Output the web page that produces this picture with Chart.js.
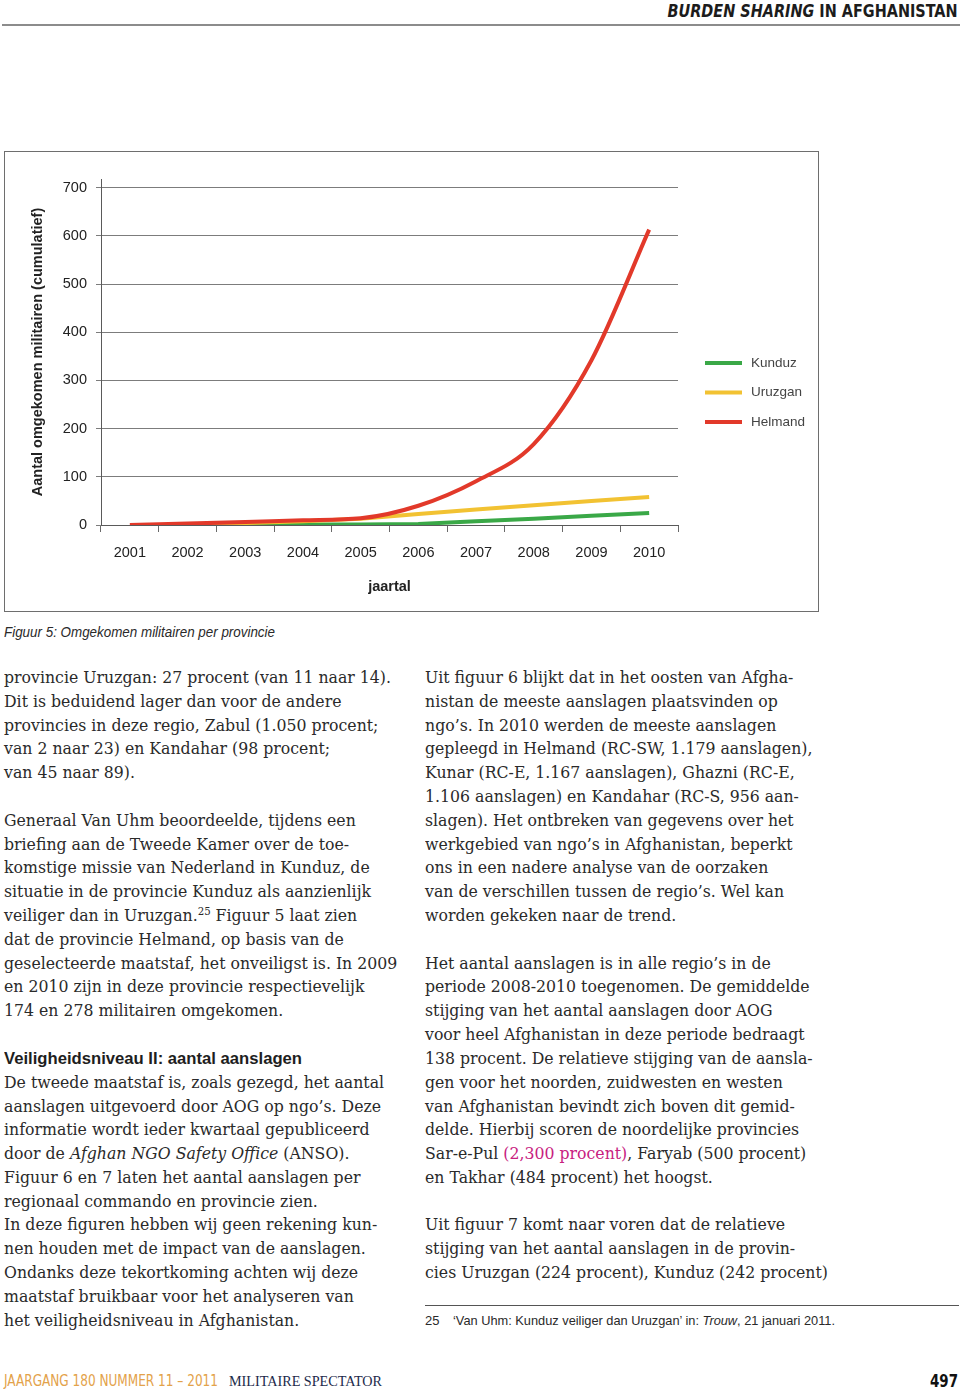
<!DOCTYPE html>
<html><head><meta charset="utf-8">
<script src="https://cdn.jsdelivr.net/npm/chart.js@4.4.0/dist/chart.umd.min.js"></script>
<style>
html,body{margin:0;padding:0;background:#fff;}
body{width:960px;height:1390px;position:relative;overflow:hidden;color:#262626;}
.abs{position:absolute;white-space:nowrap;}
.body{font-family:'DejaVu Serif',serif;font-size:17px;line-height:24px;height:24px;color:#2a2a2a;}
.body sup{font-size:11px;line-height:0;vertical-align:6px;}
.hdr{font-family:'Liberation Sans Narrow','DejaVu Sans Condensed','Liberation Sans',sans-serif;font-weight:bold;font-size:18px;line-height:22px;color:#1c1c1c;}
.sans{font-family:'Liberation Sans',sans-serif;}
</style>
</head>
<body>
<div class="abs hdr" id="hdr" style="right:2px;top:0px;"><i>BURDEN SHARING</i> IN AFGHANISTAN</div>
<div class="abs" style="left:2px;top:24px;width:958px;height:2px;background:#8c8c8c;"></div>

<div class="abs" style="left:4px;top:151px;width:815px;height:461px;border:1px solid #6e6e6e;box-sizing:border-box;"></div>
<div class="abs" style="left:5px;top:152px;width:812px;height:458px;">
  <canvas id="c" width="812" height="458"></canvas>
</div>

<div class="abs sans" id="cap" style="left:4px;top:623px;font-size:14px;line-height:18px;font-style:italic;color:#2a2a2a;">Figuur 5: Omgekomen militairen per provincie</div>

<div id="textLayer"></div>

<div class="abs" style="left:425px;top:1305px;width:534px;height:1px;background:#555;"></div>
<div class="abs sans" style="left:425px;top:1313px;font-size:13px;line-height:16px;color:#2a2a2a;">25</div>
<div class="abs sans" id="fn" style="left:453px;top:1313px;font-size:13px;line-height:16px;color:#2a2a2a;">‘Van Uhm: Kunduz veiliger dan Uruzgan’ in: <i>Trouw</i>, 21 januari 2011.</div>

<div class="abs hdr" id="ft1" style="left:4px;top:1371px;font-weight:normal;font-size:15px;line-height:20px;color:#e3a24a;">JAARGANG 180 NUMMER 11 – 2011</div>
<div class="abs" id="ft2" style="left:229px;top:1371px;font-family:'Liberation Serif',serif;font-size:15px;line-height:20px;color:#1d2a4a;">MILITAIRE SPECTATOR</div>
<div class="abs hdr" id="ft3" style="left:930px;top:1370px;font-size:18px;line-height:22px;color:#111;">497</div>

<script>
// ---------- chart data ----------
const years = ['2001','2002','2003','2004','2005','2006','2007','2008','2009','2010'];
const seriesNames = ['Kunduz','Uruzgan','Helmand'];
const kunduz  = [null, 0, 0, 1, 1, 2, 8, 13, 19, 25];
const uruzgan = [null, 1, 4, 8, 13, 23, 32, 41, 50, 58];
const helmand = [0, 3, 6, 10, 14, 40, 91, 168, 342, 613];
const seriesColors = ['#3aa847', '#f2c232', '#e2392a'];
const seriesSmooth = [false, false, true];
const yTickStep = 100;
const yTickTop = 700;
const yAxisTitle = 'Aantal omgekomen militairen (cumulatief)';
const xAxisTitle = 'jaartal';

const sideLegend = {
  id: 'sideLegend',
  afterDraw(chart) {
    const {ctx, chartArea} = chart;
    const x0 = chartArea.right + 27;
    ctx.save();
    chart.data.datasets.forEach((ds, i) => {
      const y = chartArea.top + 184 + i * 29.5;
      ctx.strokeStyle = ds.borderColor;
      ctx.lineWidth = 4;
      ctx.beginPath(); ctx.moveTo(x0, y); ctx.lineTo(x0 + 37, y); ctx.stroke();
      ctx.fillStyle = '#444';
      ctx.font = '13.5px "Liberation Sans", Arial, sans-serif';
      ctx.textBaseline = 'middle';
      ctx.textAlign = 'left';
      ctx.fillText(ds.label, x0 + 46, y);
    });
    ctx.restore();
  }
};

const seriesData = [kunduz, uruzgan, helmand];
const tickFont = {family: 'Liberation Sans', size: 14.5};
new Chart(document.getElementById('c'), {
  type: 'line',
  data: {
    labels: years,
    datasets: seriesNames.map((n, i) => ({
      label: n,
      data: seriesData[i],
      borderColor: seriesColors[i],
      backgroundColor: seriesColors[i],
      borderWidth: 4,
      pointRadius: 0,
      fill: false,
      tension: 0,
      cubicInterpolationMode: seriesSmooth[i] ? 'monotone' : 'default',
      order: 3 - i
    }))
  },
  options: {
    responsive: false,
    animation: false,
    devicePixelRatio: 1,
    layout: {padding: {left: 0, right: 139, top: 27, bottom: 0}},
    plugins: {legend: {display: false}, tooltip: {enabled: false}},
    scales: {
      x: {
        type: 'category',
        offset: true,
        grid: {offset: true, drawOnChartArea: false, drawTicks: true, tickLength: 7, color: '#6a6a6a'},
        border: {display: true, color: '#5a5a5a'},
        ticks: {color: '#222', font: tickFont, padding: 12, maxRotation: 0, autoSkip: false},
        title: {display: true, text: xAxisTitle, color: '#222', font: {family: 'Liberation Sans', size: 14.5, weight: 'bold'}, padding: {top: 0, bottom: 14}},
        afterFit: s => { s.height = 85; }
      },
      y: {
        min: 0,
        max: yTickTop + 18,
        ticks: {stepSize: yTickStep, includeBounds: false, padding: 9, color: '#222', font: tickFont},
        grid: {color: '#7c7c7c', tickLength: 5},
        border: {display: true, color: '#5a5a5a'},
        title: {display: true, text: yAxisTitle, color: '#222', font: {family: 'Liberation Sans', size: 14.5, weight: 'bold'}, padding: {top: 24, bottom: 0}},
        afterFit: s => { s.width = 96; }
      }
    }
  },
  plugins: [sideLegend]
});

// ---------- page text ----------
const leftLines = [
 [678,'provincie Uruzgan: 27 procent (van 11 naar 14).'],
 [702,'Dit is beduidend lager dan voor de andere'],
 [726,'provincies in deze regio, Zabul (1.050 procent;'],
 [749,'van 2 naar 23) en Kandahar (98 procent;'],
 [773,'van 45 naar 89).'],
 [821,'Generaal Van Uhm beoordeelde, tijdens een'],
 [845,'briefing aan de Tweede Kamer over de toe-'],
 [868,'komstige missie van Nederland in Kunduz, de'],
 [892,'situatie in de provincie Kunduz als aanzienlijk'],
 [916,'veiliger dan in Uruzgan.<sup>25</sup> Figuur 5 laat zien'],
 [940,'dat de provincie Helmand, op basis van de'],
 [964,'geselecteerde maatstaf, het onveiligst is. In 2009'],
 [987,'en 2010 zijn in deze provincie respectievelijk'],
 [1011,'174 en 278 militairen omgekomen.'],
 [1083,'De tweede maatstaf is, zoals gezegd, het aantal'],
 [1107,'aanslagen uitgevoerd door AOG op ngo’s. Deze'],
 [1130,'informatie wordt ieder kwartaal gepubliceerd'],
 [1154,'door de <i>Afghan NGO Safety Office</i> (ANSO).'],
 [1178,'Figuur 6 en 7 laten het aantal aanslagen per'],
 [1202,'regionaal commando en provincie zien.'],
 [1225,'In deze figuren hebben wij geen rekening kun-'],
 [1249,'nen houden met de impact van de aanslagen.'],
 [1273,'Ondanks deze tekortkoming achten wij deze'],
 [1297,'maatstaf bruikbaar voor het analyseren van'],
 [1321,'het veiligheidsniveau in Afghanistan.']
];
const rightLines = [
 [678,'Uit figuur 6 blijkt dat in het oosten van Afgha-'],
 [702,'nistan de meeste aanslagen plaatsvinden op'],
 [726,'ngo’s. In 2010 werden de meeste aanslagen'],
 [749,'gepleegd in Helmand (RC-SW, 1.179 aanslagen),'],
 [773,'Kunar (RC-E, 1.167 aanslagen), Ghazni (RC-E,'],
 [797,'1.106 aanslagen) en Kandahar (RC-S, 956 aan-'],
 [821,'slagen). Het ontbreken van gegevens over het'],
 [845,'werkgebied van ngo’s in Afghanistan, beperkt'],
 [868,'ons in een nadere analyse van de oorzaken'],
 [892,'van de verschillen tussen de regio’s. Wel kan'],
 [916,'worden gekeken naar de trend.'],
 [964,'Het aantal aanslagen is in alle regio’s in de'],
 [987,'periode 2008-2010 toegenomen. De gemiddelde'],
 [1011,'stijging van het aantal aanslagen door AOG'],
 [1035,'voor heel Afghanistan in deze periode bedraagt'],
 [1059,'138 procent. De relatieve stijging van de aansla-'],
 [1083,'gen voor het noorden, zuidwesten en westen'],
 [1107,'van Afghanistan bevindt zich boven dit gemid-'],
 [1130,'delde. Hierbij scoren de noordelijke provincies'],
 [1154,'Sar-e-Pul <span style="color:#c8217f">(2,300 procent)</span>, Faryab (500 procent)'],
 [1178,'en Takhar (484 procent) het hoogst.'],
 [1225,'Uit figuur 7 komt naar voren dat de relatieve'],
 [1249,'stijging van het aantal aanslagen in de provin-'],
 [1273,'cies Uruzgan (224 procent), Kunduz (242 procent)']
];
const layer = document.getElementById('textLayer');
const els = [];
function addLines(lines, x) {
  lines.forEach(([y, html]) => {
    const d = document.createElement('div');
    d.className = 'abs body';
    d.style.left = x + 'px';
    d.style.top = (y - 13) + 'px';
    d.innerHTML = html;
    layer.appendChild(d);
    els.push(d);
  });
}
addLines(leftLines, 4);
addLines(rightLines, 425);
const hd = document.createElement('div');
hd.className = 'abs sans';
hd.id = 'h2';
hd.style.cssText = 'left:4px;top:1049px;font-size:16px;line-height:20px;font-weight:bold;color:#1e1e1e;';
hd.textContent = 'Veiligheidsniveau II: aantal aanslagen';
layer.appendChild(hd);

function fitW(el, w, origin) {
  const r = el.getBoundingClientRect().width;
  el.style.transformOrigin = origin || 'left center';
  el.style.transform = 'scaleX(' + (w / r) + ')';
}
const k = 387 / els[0].getBoundingClientRect().width;
els.forEach(e => { e.style.transformOrigin = 'left center'; e.style.transform = 'scaleX(' + k + ')'; });
fitW(document.getElementById('hdr'), 290, 'right center');
fitW(document.getElementById('cap'), 271);
fitW(hd, 298);
fitW(document.getElementById('fn'), 382);
fitW(document.getElementById('ft1'), 214);
fitW(document.getElementById('ft2'), 153);
fitW(document.getElementById('ft3'), 28);
</script>
</body></html>
